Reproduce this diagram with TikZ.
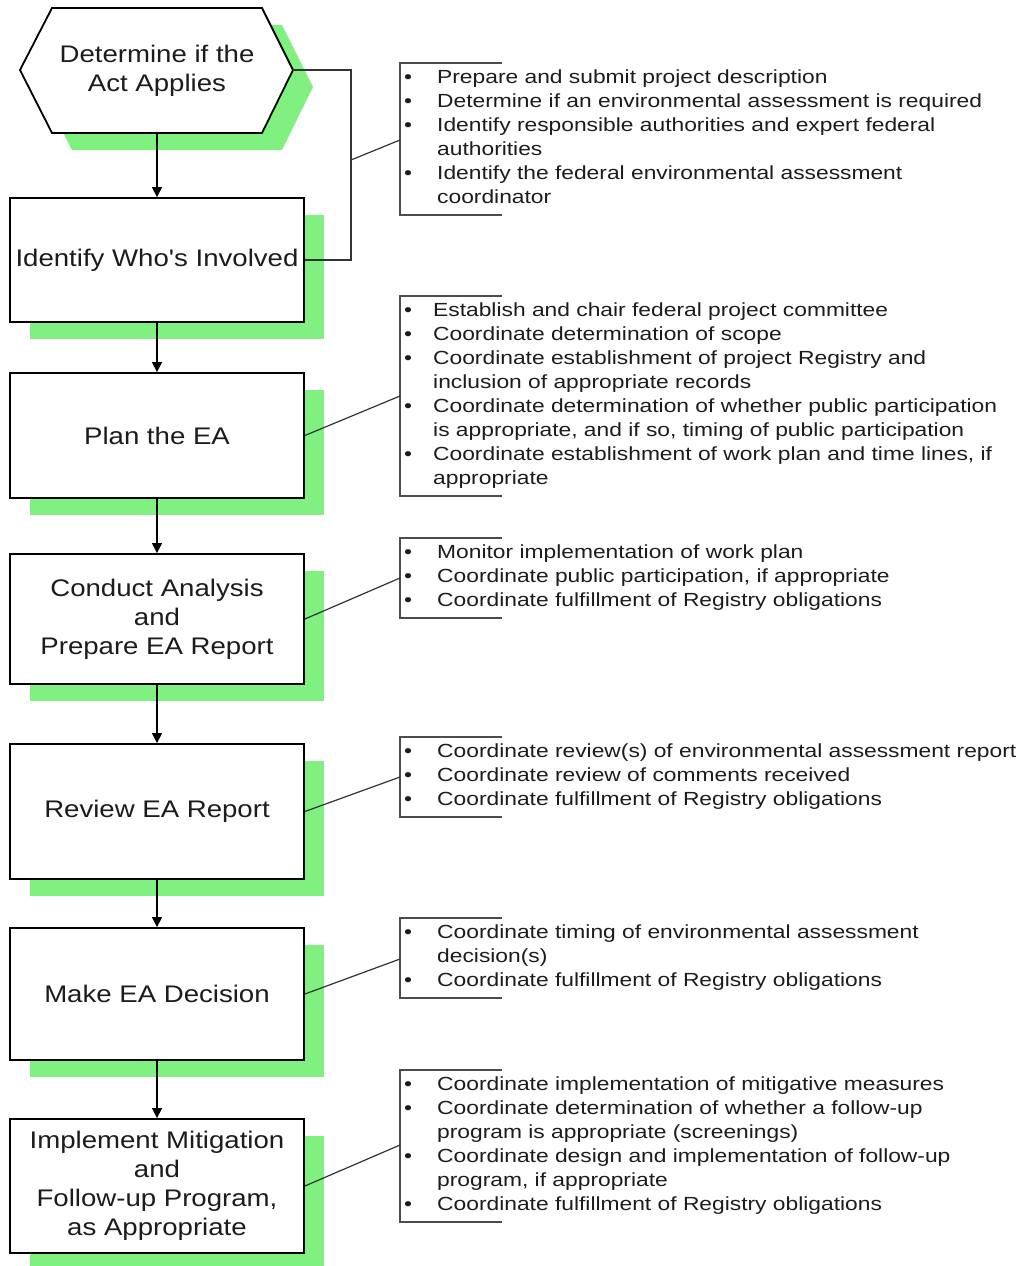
\documentclass[tikz,border=0pt]{standalone}
\usepackage{fontspec}
\setmainfont{Liberation Sans}
\newfontfamily\boxfont[FakeStretch=1.15]{Liberation Sans}
\newfontfamily\notefont[FakeStretch=1.2]{Liberation Sans}
\usetikzlibrary{arrows.meta,shadows}
\definecolor{shadowgreen}{RGB}{128,240,128}
\definecolor{txt}{RGB}{28,28,28}
\begin{document}
\begin{tikzpicture}[x=1pt,y=-1pt,
  stepbox/.style={draw=black, line width=1.8pt, fill=white, inner sep=0pt,
    minimum width=294pt, align=center, text=txt,
    font=\boxfont\fontsize{24}{29}\selectfont,
    drop shadow={shadow xshift=20pt, shadow yshift=-17pt, fill=shadowgreen, opacity=1}},
  note/.style={anchor=north west, inner sep=0pt, text=txt,
    font=\notefont\fontsize{19}{24}\selectfont},
  arr/.style={draw=black, line width=1.3pt, -{Triangle[length=10pt,width=10pt]}},
  conn/.style={draw=black!80, line width=1.2pt},
  brk/.style={draw=black!70, line width=1.6pt}]
\useasboundingbox (0,0) rectangle (1029,1266);

% hexagon
\fill[shadowgreen] (72,25) -- (282,25) -- (313,87) -- (282,150) -- (72,150) -- (40,87) -- cycle;
\filldraw[fill=white, draw=black, line width=1.8pt] (52,8) -- (262,8) -- (293,70) -- (262,133) -- (52,133) -- (20,70) -- cycle;
\node[text=txt, align=center, font=\boxfont\fontsize{24}{29}\selectfont] (hex) at (157,71) {Determine if the\\Act Applies};
\coordinate (hexR) at (293,70);
\coordinate (hexB) at (157,133);

% step boxes
\node[stepbox, minimum height=124pt] (b2) at (157,260) {Identify Who's Involved};
\node[stepbox, minimum height=125pt] (b3) at (157,435.5) {Plan the EA};
\node[stepbox, minimum height=130pt] (b4) at (157,619) {Conduct Analysis\\and\\Prepare EA Report};
\node[stepbox, minimum height=135pt] (b5) at (157,811.5) {Review EA Report};
\node[stepbox, minimum height=132pt] (b6) at (157,994) {Make EA Decision};
\node[stepbox, minimum height=134pt] (b7) at (157,1186) {Implement Mitigation\\and\\Follow-up Program,\\as Appropriate};

% arrows
\draw[arr] (hexB) -- (b2.north);
\draw[arr] (b2.south) -- (b3.north);
\draw[arr] (b3.south) -- (b4.north);
\draw[arr] (b4.south) -- (b5.north);
\draw[arr] (b5.south) -- (b6.north);
\draw[arr] (b6.south) -- (b7.north);

% notes
\node[note] (n1) at (404,66) {\begin{tabular}{@{}p{33pt}@{}l@{}}
\textbullet & Prepare and submit project description\\
\textbullet & Determine if an environmental assessment is required\\
\textbullet & Identify responsible authorities and expert federal\\
 & authorities\\
\textbullet & Identify the federal environmental assessment\\
 & coordinator
\end{tabular}};
\node[note] (n2) at (404,299) {\begin{tabular}{@{}p{29pt}@{}l@{}}
\textbullet & Establish and chair federal project committee\\
\textbullet & Coordinate determination of scope\\
\textbullet & Coordinate establishment of project Registry and\\
 & inclusion of appropriate records\\
\textbullet & Coordinate determination of whether public participation\\
 & is appropriate, and if so, timing of public participation\\
\textbullet & Coordinate establishment of work plan and time lines, if\\
 & appropriate
\end{tabular}};
\node[note] (n3) at (404,541) {\begin{tabular}{@{}p{33pt}@{}l@{}}
\textbullet & Monitor implementation of work plan\\
\textbullet & Coordinate public participation, if appropriate\\
\textbullet & Coordinate fulfillment of Registry obligations
\end{tabular}};
\node[note] (n4) at (404,740) {\begin{tabular}{@{}p{33pt}@{}l@{}}
\textbullet & Coordinate review(s) of environmental assessment report\\
\textbullet & Coordinate review of comments received\\
\textbullet & Coordinate fulfillment of Registry obligations
\end{tabular}};
\node[note] (n5) at (404,921) {\begin{tabular}{@{}p{33pt}@{}l@{}}
\textbullet & Coordinate timing of environmental assessment\\
 & decision(s)\\
\textbullet & Coordinate fulfillment of Registry obligations
\end{tabular}};
\node[note] (n6) at (404,1073) {\begin{tabular}{@{}p{33pt}@{}l@{}}
\textbullet & Coordinate implementation of mitigative measures\\
\textbullet & Coordinate determination of whether a follow-up\\
 & program is appropriate (screenings)\\
\textbullet & Coordinate design and implementation of follow-up\\
 & program, if appropriate\\
\textbullet & Coordinate fulfillment of Registry obligations
\end{tabular}};

% brackets
\foreach \n in {n1,n2,n3,n4,n5,n6}{
  \draw[brk] ([shift={(98,-3)}]\n.north west) -- ([shift={(-4,-3)}]\n.north west)
    -- ([shift={(-4,4.5)}]\n.south west) -- ([shift={(98,4.5)}]\n.south west);
}

% connectors
\coordinate (elbow) at (351,160);
\coordinate (c1) at (400,140);
\coordinate (c2) at (400,396);
\coordinate (c3) at (400,578);
\coordinate (c4) at (400,777);
\coordinate (c5) at (400,959);
\coordinate (c6) at (400,1145);
\draw[conn] (hexR) -| (elbow) |- (b2.east);
\draw[conn] (elbow) -- (c1);
\draw[conn] (b3.east) -- (c2);
\draw[conn] (b4.east) -- (c3);
\draw[conn] (b5.east) -- (c4);
\draw[conn] (b6.east) -- (c5);
\draw[conn] (b7.east) -- (c6);
\end{tikzpicture}
\end{document}
